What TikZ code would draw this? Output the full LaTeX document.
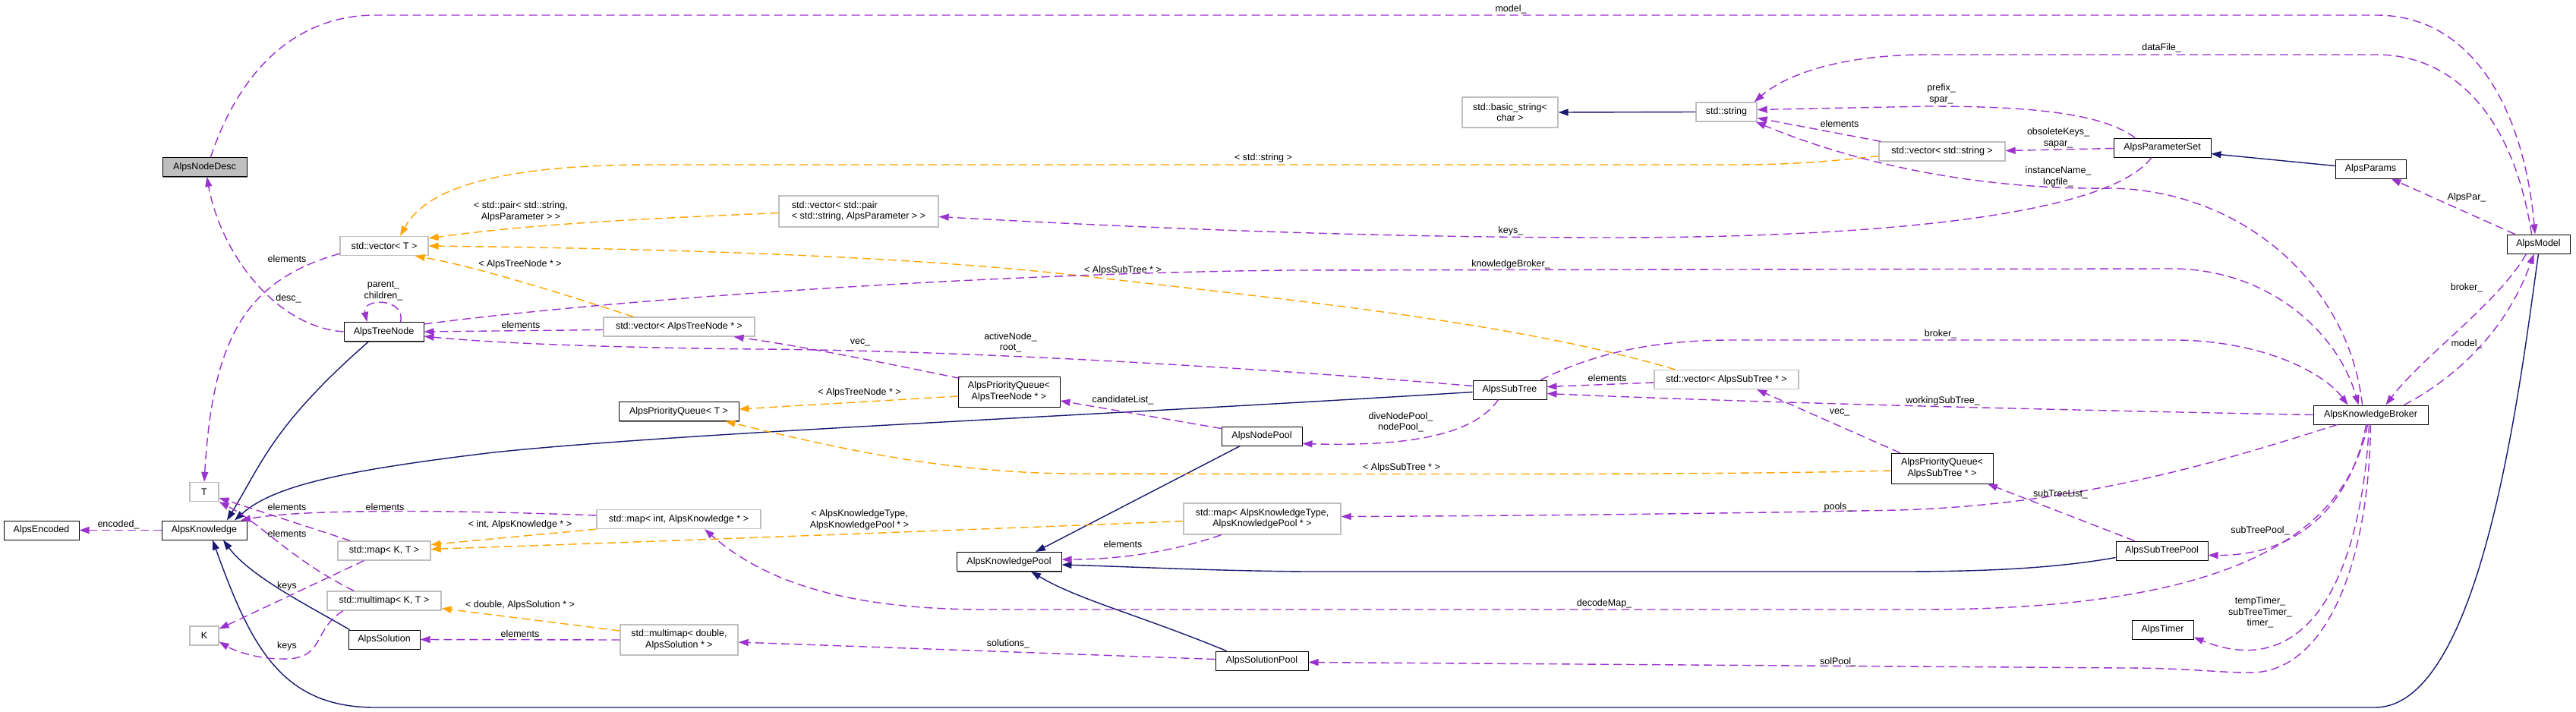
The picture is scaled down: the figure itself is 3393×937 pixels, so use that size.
\documentclass[tikz,border=0pt]{standalone}
\usepackage{fontspec}
\setmainfont{Liberation Sans}
\usetikzlibrary{arrows.meta,calc,shadows}
\definecolor{purp}{HTML}{9A32CD}
\definecolor{orng}{HTML}{FFA500}
\definecolor{navy}{HTML}{191970}
\definecolor{tplgray}{HTML}{BFBFBF}
\begin{document}
\begin{tikzpicture}[x=1pt,y=-1pt,
  font=\fontsize{12.5}{14.5}\selectfont,
  cls/.style={draw=black, line width=1pt, fill=white, minimum height=25pt, inner sep=0pt,
    drop shadow={shadow xshift=1.3pt, shadow yshift=-1.3pt, fill=black!55, opacity=1}},
  tpl/.style={draw=tplgray, line width=1.3pt, fill=white, minimum height=25pt, inner sep=0pt},
  lbl/.style={inner sep=0pt, align=center},
  usedge/.style={draw=purp, line width=1.4pt, dash pattern=on 11pt off 6pt, -{Triangle[length=13pt,width=9pt]}},
  tmpledge/.style={draw=orng, line width=1.4pt, dash pattern=on 11pt off 6pt, -{Triangle[length=13pt,width=9pt]}},
  inhedge/.style={draw=navy, line width=1.4pt, -{Triangle[length=13pt,width=9pt]}}
]
\fill[white] (0,0) rectangle (3393,937);
\useasboundingbox (0,0) rectangle (3393,937);

% ---------- nodes ----------
\node[cls, minimum width=111pt, fill=tplgray] (nd) at (269.5,220) {AlpsNodeDesc};
\node[tpl, minimum width=116pt] (vecT) at (506,324) {std::vector< T >};
\node[cls, minimum width=105pt] (treenode) at (505.5,437) {AlpsTreeNode};
\node[tpl, minimum width=199pt] (vecATN) at (894.5,430.5) {std::vector< AlpsTreeNode * >};
\node[tpl, minimum width=38pt] (T) at (269,648) {T};
\node[cls, minimum width=99pt] (enc) at (54.5,698.5) {AlpsEncoded};
\node[cls, minimum width=112pt] (know) at (269,698.5) {AlpsKnowledge};
\node[tpl, minimum width=122pt] (mapKT) at (506,725.5) {std::map< K, T >};
\node[tpl, minimum width=150pt] (mmKT) at (506,791.5) {std::multimap< K, T >};
\node[tpl, minimum width=38pt] (K) at (269,837.5) {K};
\node[cls, minimum width=94pt] (sol) at (506,842.5) {AlpsSolution};
\node[tpl, minimum width=216pt] (mapInt) at (894,684) {std::map< int, AlpsKnowledge * >};
\node[tpl, minimum width=155pt, minimum height=40pt, align=center] (mmDbl) at (894.5,843) {std::multimap< double,\\AlpsSolution * >};
\node[cls, minimum width=158pt] (pqT) at (894,542) {AlpsPriorityQueue< T >};
\node[tpl, minimum width=210pt, minimum height=41pt, align=left] (vecPair) at (1131,278.5) {std::vector< std::pair\\< std::string, AlpsParameter > >};
\node[cls, minimum width=134pt, minimum height=40pt, align=center] (pqATN) at (1329,516) {AlpsPriorityQueue<\\AlpsTreeNode * >};
\node[cls, minimum width=106pt] (nodepool) at (1662,574.5) {AlpsNodePool};
\node[tpl, minimum width=207pt, minimum height=41pt, align=center] (mapAKT) at (1662.5,683.5) {std::map< AlpsKnowledgeType,\\AlpsKnowledgePool * >};
\node[cls, minimum width=138pt] (kpool) at (1329,740) {AlpsKnowledgePool};
\node[cls, minimum width=122pt] (solpool) at (1662,870.5) {AlpsSolutionPool};
\node[tpl, minimum width=126pt, minimum height=40pt, align=center] (bstr) at (1989,148) {std::basic\_string<\\char >};
\node[tpl, minimum width=80pt] (str) at (2274,147.5) {std::string};
\node[tpl, minimum width=166pt] (vecStr) at (2558,199.5) {std::vector< std::string >};
\node[cls, minimum width=97pt] (subtree) at (1988.5,513.5) {AlpsSubTree};
\node[tpl, minimum width=190pt] (vecAST) at (2274,500) {std::vector< AlpsSubTree * >};
\node[cls, minimum width=134pt, minimum height=40pt, align=center] (pqAST) at (2558,617) {AlpsPriorityQueue<\\AlpsSubTree * >};
\node[cls, minimum width=128pt] (pset) at (2848,194.5) {AlpsParameterSet};
\node[cls, minimum width=93pt] (params) at (3122.5,222.5) {AlpsParams};
\node[cls, minimum width=83pt] (model) at (3343.5,321.5) {AlpsModel};
\node[cls, minimum width=151pt] (broker) at (3122.5,546.5) {AlpsKnowledgeBroker};
\node[cls, minimum width=121pt] (stpool) at (2847.5,725.5) {AlpsSubTreePool};
\node[cls, minimum width=81pt] (timer) at (2848.5,829.5) {AlpsTimer};

% ---------- inheritance ----------
\draw[inhedge] (str.west) -- (bstr.east);
\draw[inhedge] ($(params.west)+(0,-4)$) -- ($(pset.east)+(0,8)$);
\draw[inhedge] ($(treenode.south)+(-20,0)$) .. controls (360,560) and (345,610) .. ($(know.north)+(30,0)$);
\draw[inhedge] ($(subtree.west)+(0,3)$) .. controls (1400,550) and (900,570) .. (650,596) .. controls (450,620) and (360,640) .. ($(know.north)+(40,0)$);
\draw[inhedge] ($(sol.north west)+(2,0)$) .. controls (410,800) and (330,760) .. ($(know.south)+(25,0)$);
\draw[inhedge] (model.south) .. controls (3320,500) and (3270,932) .. (3128,932) -- (494,932) .. controls (370,932) and (330,850) .. ($(know.south)+(11,0)$);
\draw[inhedge] ($(nodepool.south west)+(25,0)$) -- ($(kpool.north)+(35,0)$);
\draw[inhedge] ($(stpool.west)+(0,9)$) .. controls (2700,750) and (2600,753) .. (2500,753) -- (1720,753) .. controls (1600,752) and (1500,747) .. ($(kpool.east)+(0,4)$);
\draw[inhedge] ($(solpool.north west)+(15,0)$) .. controls (1500,810) and (1420,790) .. ($(kpool.south)+(29,0)$);

% ---------- template instantiation ----------
\draw[tmpledge] ($(vecStr.west)+(0,6)$) .. controls (2400,214) and (2350,217) .. (2280,217) -- (860,217) .. controls (650,217) and (560,250) .. ($(vecT.north)+(21,0)$);
\draw[tmpledge] ($(vecPair.west)+(0,2)$) .. controls (850,288) and (700,295) .. ($(vecT.east)+(0,-10)$);
\draw[tmpledge] ($(vecAST.north west)+(28,0)$) .. controls (2000,425) and (1700,395) .. (1421,363) .. controls (1200,338) and (900,328) .. (vecT.east);
\draw[tmpledge] ($(vecATN.north)+(-60,0)$) .. controls (720,380) and (620,350) .. ($(vecT.south east)+(-18,0)$);
\draw[tmpledge] ($(pqATN.west)+(0,6)$) -- ($(pqT.east)+(0,-3)$);
\draw[tmpledge] ($(pqAST.west)+(0,3)$) .. controls (2300,625) and (2000,625) .. (1420,624) .. controls (1250,624) and (1100,590) .. ($(pqT.south east)+(-18,0)$);
\draw[tmpledge] (mapInt.south west) -- ($(mapKT.east)+(0,-8)$);
\draw[tmpledge] ($(mapAKT.west)+(0,3)$) .. controls (1300,697) and (900,712) .. ($(mapKT.east)+(0,-2)$);
\draw[tmpledge] ($(mmDbl.west)+(0,-12)$) -- ($(mmKT.east)+(0,10)$);

% ---------- usage ----------
\draw[usedge] (treenode.west) .. controls (360,430) and (290,330) .. ($(nd.south)+(3,0)$);
\draw[usedge] ($(nd.north)+(8,0)$) .. controls (320,80) and (400,20) .. (494,20) -- (3130,20) .. controls (3260,20) and (3325,150) .. ($(model.north)+(-4.5,0)$);
\draw[usedge] ($(model.north)+(-9,0)$) .. controls (3310,150) and (3230,72) .. (3130,72) -- (2540,72) .. controls (2420,72) and (2350,100) .. ($(str.north east)+(-4,0)$);
\draw[usedge] ($(pset.north)+(-36,0)$) .. controls (2770,150) and (2680,140) .. (2540,140) -- ($(str.east)+(0,-3)$);
\draw[usedge] ($(pset.west)+(0,1)$) -- ($(vecStr.east)+(0,-1)$);
\draw[usedge] ($(pset.south)+(-14,0)$) .. controls (2780,280) and (2500,313) .. (2120,313) .. controls (1800,313) and (1500,300) .. ($(vecPair.east)+(0,7)$);
\draw[usedge] ($(broker.north)+(-11,0)$) .. controls (3095,380) and (2960,252) .. (2782,248) .. controls (2650,250) and (2480,230) .. ($(str.south east)+(-2,0)$);
\draw[usedge] ($(vecStr.north west)+(3,0)$) -- ($(str.east)+(0,8)$);
\draw[usedge] ($(treenode.east)+(0,-10)$) .. controls (800,395) and (1300,360) .. (1700,356) -- (2860,354) .. controls (2990,354) and (3080,440) .. ($(broker.north)+(-16,0)$);
\draw[usedge] ($(subtree.north east)+(-8,0)$) .. controls (2100,465) and (2180,448) .. (2280,448) -- (2870,448) .. controls (2980,450) and (3060,490) .. ($(broker.north)+(-30,0)$);
\draw[usedge] ($(subtree.west)+(0,-5)$) .. controls (1700,488) and (1300,462) .. (1000,460) .. controls (800,458) and (650,452) .. ($(treenode.east)+(0,6)$);
\draw[usedge] ($(vecATN.west)+(0,4)$) -- (treenode.east);
\draw[usedge] ($(treenode.north)+(22,0)$) .. controls (535,392) and (476,392) .. ($(treenode.north)+(-22,0)$);
\draw[usedge] ($(vecT.south west)+(0,-3)$) .. controls (320,370) and (280,450) .. (T.north);
\draw[usedge] ($(mapKT.north west)+(17,0)$) -- ($(T.east)+(0,8)$);
\draw[usedge] ($(mmKT.north)+(-40,0)$) .. controls (380,735) and (345,690) .. (T.south east);
\draw[usedge] ($(mapInt.west)+(0,-5)$) .. controls (600,672) and (400,670) .. ($(know.north)+(48,0)$);
\draw[usedge] (know.west) -- (enc.east);
\draw[usedge] ($(mapKT.south west)+(35,0)$) -- ($(K.east)+(0,-9)$);
\draw[usedge] ($(mmKT.south)+(-54,0)$) .. controls (410,830) and (430,870) .. (370,868) .. controls (340,868) and (310,858) .. ($(K.east)+(0,8)$);
\draw[usedge] (mmDbl.west) -- (sol.east);
\draw[usedge] ($(pqATN.north west)+(3,3)$) .. controls (1150,475) and (1050,455) .. ($(vecATN.south)+(72,0)$);
\draw[usedge] ($(nodepool.north west)+(0,3)$) -- ($(pqATN.east)+(0,12)$);
\draw[usedge] ($(subtree.south)+(-15,0)$) .. controls (1940,575) and (1850,588) .. ($(nodepool.east)+(0,10)$);
\draw[usedge] ($(vecAST.west)+(0,4)$) -- ($(subtree.east)+(0,-4)$);
\draw[usedge] (broker.west) .. controls (2700,540) and (2300,530) .. ($(subtree.east)+(0,5)$);
\draw[usedge] ($(pqAST.north west)+(12,0)$) -- ($(vecAST.south)+(40,0)$);
\draw[usedge] ($(stpool.north west)+(25,0)$) -- ($(pqAST.south)+(60,0)$);
\draw[usedge] ($(broker.south west)+(32,0)$) .. controls (2950,600) and (2750,665) .. (2500,672) .. controls (2200,678) and (1900,680) .. ($(mapAKT.east)+(0,-3)$);
\draw[usedge] ($(mapAKT.south)+(-54,0)$) .. controls (1550,725) and (1480,737) .. ($(kpool.east)+(0,-3)$);
\draw[usedge] ($(broker.south)+(-6,0)$) .. controls (3100,650) and (3040,732) .. ($(stpool.east)+(0,6)$);
\draw[usedge] ($(broker.south)+(-4,0)$) .. controls (3090,700) and (2950,803) .. (2530,803) -- (1300,803) .. controls (1100,803) and (1000,760) .. ($(mapInt.south)+(34,0)$);
\draw[usedge] ($(broker.south)+(-2,0)$) .. controls (3110,760) and (3040,900) .. ($(timer.east)+(0,10)$);
\draw[usedge] (broker.south) .. controls (3120,750) and (3060,890) .. (2960,886) .. controls (2920,886) and (2880,880) .. (2800,880) -- ($(solpool.east)+(0,2)$);
\draw[usedge] ($(solpool.west)+(0,-2)$) -- ($(mmDbl.east)+(0,3)$);
\draw[usedge] ($(model.north west)+(11,0)$) -- ($(params.south)+(27,0)$);
\draw[usedge] ($(model.south west)+(26,0)$) .. controls (3290,400) and (3190,470) .. ($(broker.north)+(20,0)$);
\draw[usedge] ($(broker.north east)+(-32,0)$) .. controls (3230,500) and (3300,440) .. ($(model.south)+(-6,0)$);

% ---------- labels ----------
\node[lbl] (l1) at (380,393) {desc\_};
\node[lbl] (l2) at (1990,12) {model\_};
\node[lbl] (l3) at (2847,63) {dataFile\_};
\node[lbl] (l4) at (2557,124) {prefix\_\\spar\_};
\node[lbl] (l5) at (2711,182) {obsoleteKeys\_\\sapar\_};
\node[lbl] (l6) at (1990,304) {keys\_};
\node[lbl] (l7) at (2711,233) {instanceName\_\\logfile\_};
\node[lbl] (l8) at (2423,163) {elements};
\node[lbl] (l9) at (1990,348) {knowledgeBroker\_};
\node[lbl] (l10) at (2556,440) {broker\_};
\node[lbl] (l11) at (1331,451) {activeNode\_\\root\_};
\node[lbl] (l12) at (686,428) {elements};
\node[lbl] (l13) at (505,383) {parent\_\\children\_};
\node[lbl] (l14) at (378,341) {elements};
\node[lbl] (l15) at (378,668) {elements};
\node[lbl] (l16) at (378,703) {elements};
\node[lbl] (l17) at (507,668) {elements};
\node[lbl] (l18) at (156,691) {encoded\_};
\node[lbl] (l19) at (378,772) {keys};
\node[lbl] (l20) at (378,851) {keys};
\node[lbl] (l21) at (685,835) {elements};
\node[lbl] (l22) at (1133,451) {vec\_};
\node[lbl] (l23) at (1479,527) {candidateList\_};
\node[lbl] (l24) at (1845,556) {diveNodePool\_\\nodePool\_};
\node[lbl] (l25) at (2117,498) {elements};
\node[lbl] (l26) at (2559,528) {workingSubTree\_};
\node[lbl] (l27) at (2423,543) {vec\_};
\node[lbl] (l28) at (2714,651) {subTreeList\_};
\node[lbl] (l29) at (2421,668) {pools\_};
\node[lbl] (l30) at (1479,717) {elements};
\node[lbl] (l31) at (2977,699) {subTreePool\_};
\node[lbl] (l32) at (2113,795) {decodeMap\_};
\node[lbl] (l33) at (2977,807) {tempTimer\_\\subTreeTimer\_\\timer\_};
\node[lbl] (l34) at (2421,872) {solPool\_};
\node[lbl] (l35) at (1328,848) {solutions\_};
\node[lbl] (l36) at (3249,260) {AlpsPar\_};
\node[lbl] (l37) at (3249,379) {broker\_};
\node[lbl] (l38) at (3249,453) {model\_};
\node[lbl] (t1) at (1664,208) {< std::string >};
\node[lbl] (t2) at (686,279) {< std::pair< std::string,\\AlpsParameter > >};
\node[lbl] (t3) at (1479,356) {< AlpsSubTree * >};
\node[lbl] (t4) at (685,348) {< AlpsTreeNode * >};
\node[lbl] (t5) at (1132,517) {< AlpsTreeNode * >};
\node[lbl] (t6) at (1846,616) {< AlpsSubTree * >};
\node[lbl] (t7) at (685,691) {< int, AlpsKnowledge * >};
\node[lbl] (t8) at (1132,685) {< AlpsKnowledgeType,\\AlpsKnowledgePool * >};
\node[lbl] (t9) at (685,797) {< double, AlpsSolution * >};
\end{tikzpicture}
\end{document}
